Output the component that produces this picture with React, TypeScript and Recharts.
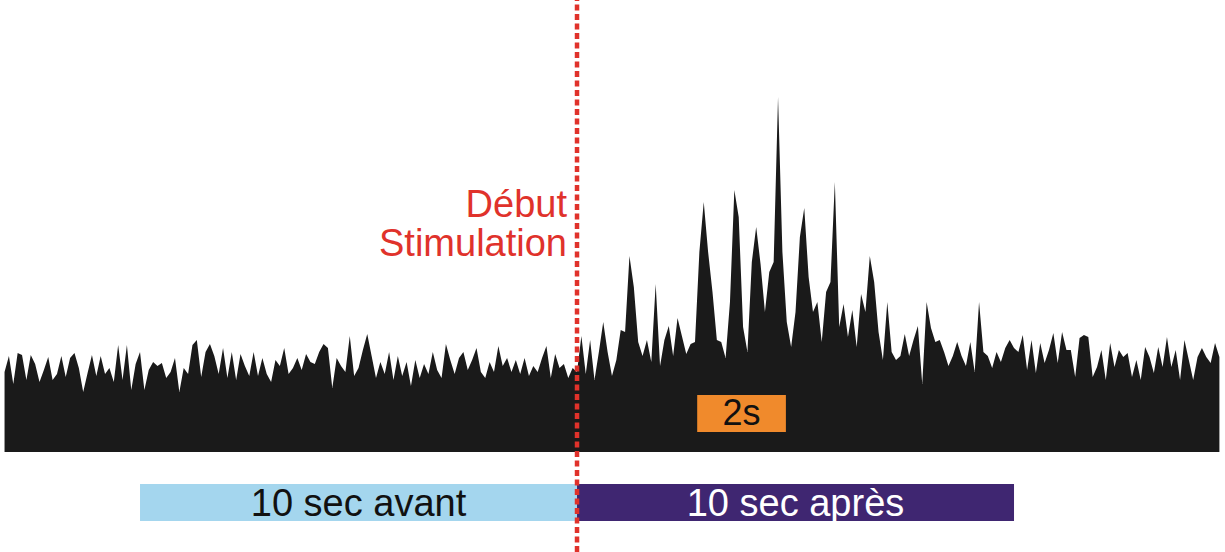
import { ComposedChart, Area, XAxis, YAxis, ReferenceLine, ReferenceArea } from "recharts";

// signal amplitude above the baseline, one sample every 0.1 s starting at t = -13.1 s
const beforeA = [
  80, 96, 68, 99, 97, 72, 97, 88, 70, 82,
  95, 72, 78, 96, 75, 94, 99, 84, 60, 79,
  97, 76, 96, 78, 84, 70, 107, 72, 107, 62,
  88, 100, 62, 82, 90, 86, 89, 74, 80, 94,
  60, 84, 78, 107, 112, 75,
];
const beforeB = [
  100, 108, 96, 78, 104, 74, 100, 72, 98, 86,
  76, 100, 76, 94, 78, 70, 92, 86, 104, 78,
  84, 94, 82, 98, 90, 88, 100, 108, 104, 64,
  94, 86, 80, 116, 76, 84, 102, 118, 96, 74,
  90, 78, 100, 72, 96, 76,
];
const beforeC = [
  90, 66, 92, 74, 88, 78, 100, 82, 74, 108,
  92, 78, 94, 100, 82, 92, 104, 80, 74, 90,
  80, 106, 86, 94, 80, 92, 78, 94, 76, 86,
  80, 94, 106, 74, 98, 84, 88, 74, 84, 80,
];
const afterA = [
  116, 78, 112, 72, 100, 130, 100, 76, 92, 122,
  120, 196, 165, 110, 96, 112, 90, 168, 86, 112,
  126, 96, 134, 116, 98, 108, 110, 200, 250, 200,
  160, 112, 110, 94, 150, 262, 235, 125, 100, 190,
  225, 188, 140, 180, 190, 355, 200, 130, 105, 140,
  215, 244, 175, 140, 150, 110, 160, 170, 270, 125,
  148, 115, 142, 105, 158, 140, 196, 170, 120, 92,
  150, 100, 92, 96,
];
const afterB = [
  118, 96, 112, 126, 68, 150, 124, 110, 112, 100,
  86, 96, 110, 96, 86, 110, 80, 150, 100, 96,
  84, 100, 90, 104, 112, 104,
];
const afterC = [
  100, 117, 82, 112, 79, 109, 89, 102, 119, 89,
  120, 102, 102, 75, 114, 117, 115, 75, 85, 102,
  72, 109, 85, 102, 95, 99, 75, 92, 72, 105,
  95, 79, 105, 85, 115, 85, 102, 72, 112, 92,
  72, 95, 104, 95, 89, 109, 95,
];

const startTime = -13.1;
const step = 0.1;

const signal = [...beforeA, ...beforeB, ...beforeC, ...afterA, ...afterB, ...afterC];
const data = signal.map((v, i) => ({ t: Math.round((startTime + i * step) * 10) / 10, v }));

const FONT = "'Liberation Sans', Arial, Helvetica, sans-serif";
const RED = "#e0322b";

function BoxLabel({ viewBox, text, color, baseline, size }: any) {
  if (!viewBox) return null;
  return (
    <text
      x={viewBox.x + viewBox.width / 2}
      y={viewBox.y + baseline}
      textAnchor="middle"
      fill={color}
      fontSize={size}
      fontFamily={FONT}
    >
      {text}
    </text>
  );
}

function StimLabel({ viewBox }: any) {
  if (!viewBox) return null;
  const x = viewBox.x - 10;
  return (
    <g fill={RED} fontSize={38} fontFamily={FONT} textAnchor="end">
      <text x={x} y={217}>Début</text>
      <text x={x} y={256}>Stimulation</text>
    </g>
  );
}

export default function App() {
  return (
    <div style={{ position: "absolute", left: 0, top: 0, background: "#fff" }}>
      <ComposedChart width={1225} height={552} data={data} margin={{ top: 0, right: 0, bottom: 0, left: 0 }}>
        <XAxis type="number" dataKey="t" domain={[-13.204, 14.828]} hide allowDataOverflow />
        <YAxis type="number" domain={[-100, 452]} hide allowDataOverflow />
        <Area
          type="linear"
          dataKey="v"
          stroke="none"
          fill="#1a1a1a"
          fillOpacity={1}
          baseValue={0}
          dot={false}
          activeDot={false}
          isAnimationActive={false}
        />
        <ReferenceArea
          x1={2.75}
          x2={4.78}
          y1={20}
          y2={57}
          fill="#f08a2c"
          fillOpacity={1}
          stroke="none"
          label={<BoxLabel text="2s" color="#111" baseline={30} size={36} />}
        />
        <ReferenceArea
          x1={-10}
          x2={0}
          y1={-69}
          y2={-32}
          fill="#a4d6ee"
          fillOpacity={1}
          stroke="none"
          label={<BoxLabel text="10 sec avant" color="#111" baseline={32} size={38} />}
        />
        <ReferenceArea
          x1={0}
          x2={10}
          y1={-69}
          y2={-32}
          fill="#3f2671"
          fillOpacity={1}
          stroke="none"
          label={<BoxLabel text="10 sec après" color="#fff" baseline={32} size={38} />}
        />
        <ReferenceLine
          x={0}
          stroke={RED}
          strokeWidth={4.5}
          strokeDasharray="6 3.5"
          label={<StimLabel />}
        />
      </ComposedChart>
    </div>
  );
}
